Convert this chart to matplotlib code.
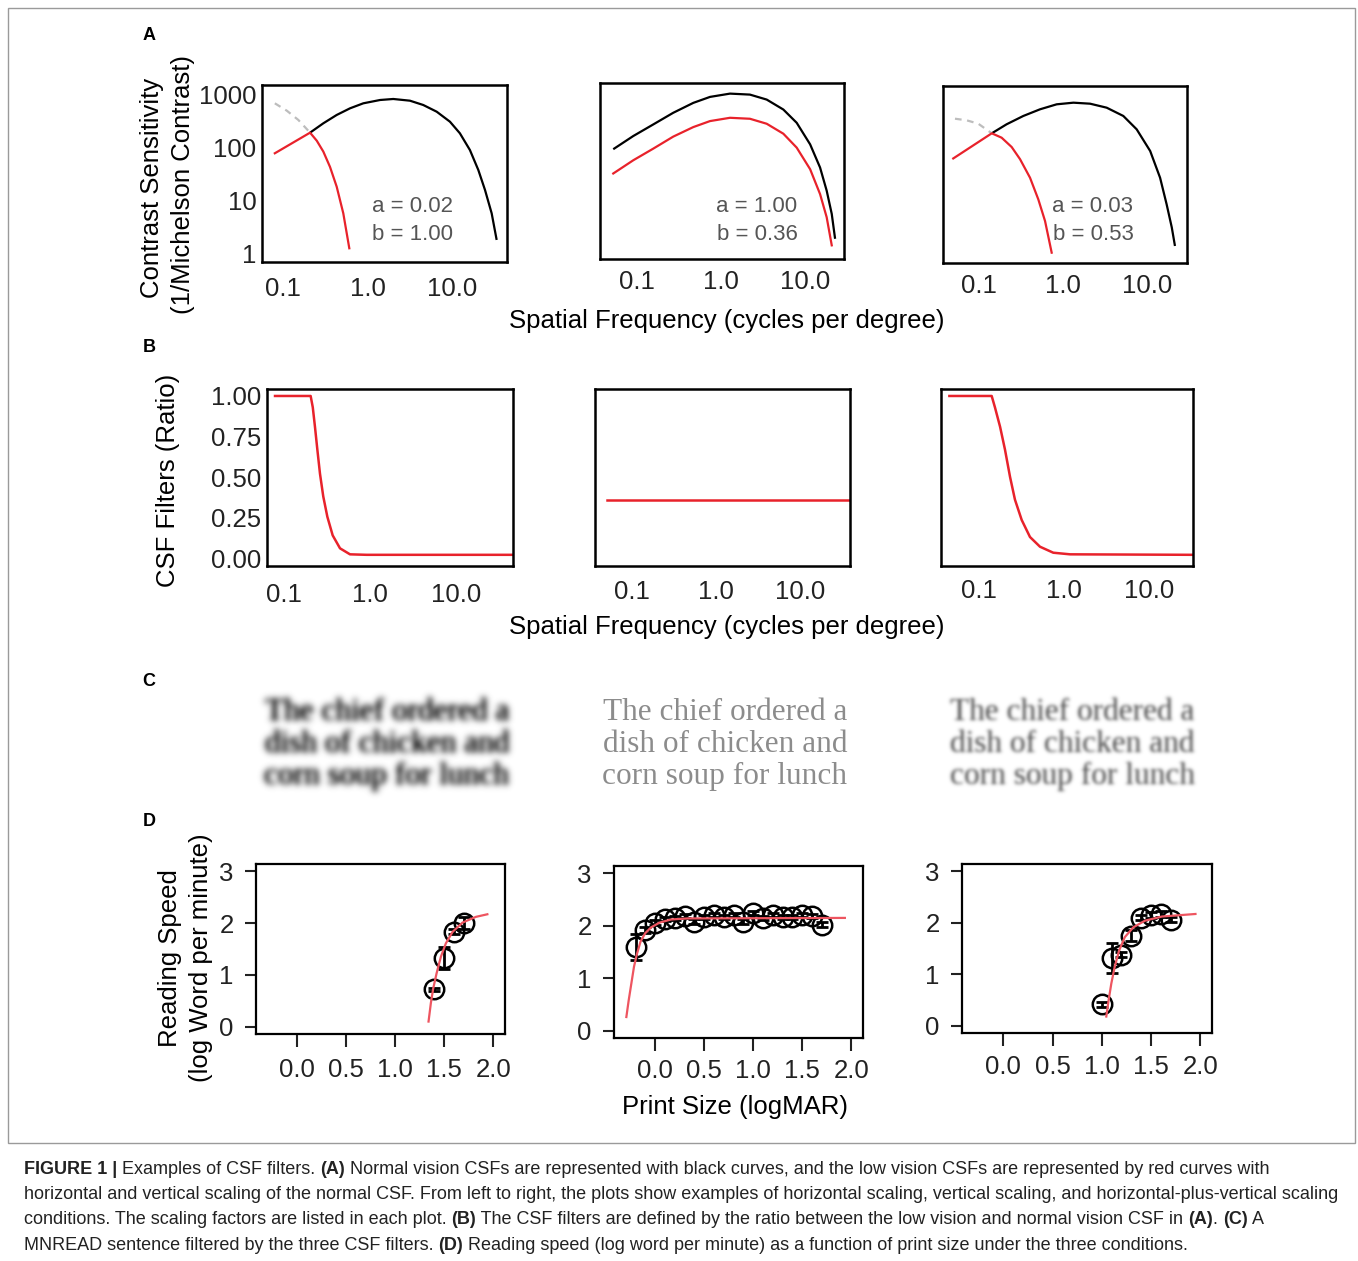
import numpy as np
import matplotlib
matplotlib.use('Agg')
import matplotlib.pyplot as plt
from matplotlib.patches import Rectangle
from matplotlib.ticker import NullLocator
from matplotlib import colors as mcolors

plt.rcParams['font.family'] = ['Liberation Sans', 'DejaVu Sans']

W, H = 1358, 1261

# ---- panel A: contrast sensitivity (cycles/deg, 1/Michelson contrast)
a1_black_f = [0.209, 0.300, 0.432, 0.621, 0.892, 1.41, 2.02, 3.18, 4.57, 6.59, 9.46, 12.4, 16.3, 20.5, 24.6, 29.5, 33.8]
a1_black_s = [192, 289, 416, 556, 692, 800, 836, 776, 643, 480, 310, 187, 90, 37.6, 15.7, 5.66, 1.77]
a1_gray_f = [0.080, 0.111, 0.152, 0.209]
a1_gray_s = [692, 501, 334, 192]
a1_red_f = [0.080, 0.209, 0.251, 0.300, 0.360, 0.432, 0.517, 0.609]
a1_red_s = [78, 192, 135, 84, 43, 18.1, 5.66, 1.23]

a2_black_f = [0.0522, 0.0904, 0.156, 0.270, 0.468, 0.740, 1.28, 2.21, 3.50, 5.52, 7.96, 11.5, 15.1, 18.1, 20.8, 22.8]
a2_black_s = [84, 150, 249, 416, 643, 836, 966, 925, 743, 480, 268, 104, 37.6, 13.6, 4.89, 1.64]
a2_red_f = [0.0522, 0.0904, 0.156, 0.270, 0.468, 0.740, 1.28, 2.21, 3.50, 5.52, 7.96, 11.5, 15.1, 18.1, 20.8]
a2_red_s = [28.9, 51.7, 86, 146, 222, 289, 334, 320, 257, 166, 90, 34.9, 11.7, 4.23, 1.23]

a3_black_f = [0.142, 0.213, 0.337, 0.532, 0.841, 1.33, 2.10, 3.31, 5.22, 7.53, 10.9, 14.3, 17.1, 19.7, 21.5]
a3_black_s = [195, 289, 416, 556, 692, 743, 711, 597, 416, 232, 90, 28, 8.8, 3.2, 1.42]
a3_gray_f = [0.0518, 0.0713, 0.098, 0.142]
a3_gray_s = [369, 344, 297, 195]
a3_red_f = [0.0494, 0.142, 0.186, 0.245, 0.308, 0.405, 0.508, 0.611, 0.733]
a3_red_s = [65, 195, 161, 107, 63, 28, 10.9, 4.23, 1.06]

scale_labels = [('a = 0.02', 'b = 1.00'), ('a = 1.00', 'b = 0.36'), ('a = 0.03', 'b = 0.53')]

# ---- panel B: CSF filter ratio
b1_f = [0.0786, 0.204, 0.216, 0.229, 0.244, 0.262, 0.286, 0.319, 0.368, 0.448, 0.585, 0.915, 45.6]
b1_r = [1.0, 1.0, 0.93, 0.81, 0.67, 0.52, 0.38, 0.255, 0.14, 0.06, 0.023, 0.02, 0.02]
b2_f = [0.05, 39.4]
b2_r = [0.36, 0.36]
b3_f = [0.0448, 0.141, 0.154, 0.177, 0.202, 0.232, 0.265, 0.318, 0.398, 0.522, 0.748, 1.18, 33.2]
b3_r = [1.0, 1.0, 0.93, 0.81, 0.67, 0.50, 0.36, 0.235, 0.13, 0.07, 0.033, 0.023, 0.02]

# ---- panel C: sentence
sentence = ['The chief ordered a', 'dish of chicken and', 'corn soup for lunch']

# ---- panel D: reading speed (logMAR, log wpm)
d1_x = [1.4, 1.5, 1.6, 1.7]
d1_y = [0.72, 1.33, 1.83, 2.0]
d1_err = [0.03, 0.21, 0.05, 0.12]
d1_fit_x = [1.34, 1.364, 1.388, 1.422, 1.466, 1.517, 1.585, 1.687, 1.823, 1.94]
d1_fit_y = [0.10, 0.46, 0.74, 1.03, 1.35, 1.61, 1.83, 2.01, 2.12, 2.17]

d2_x = [-0.2, -0.1, 0.0, 0.1, 0.2, 0.3, 0.4, 0.5, 0.6, 0.7, 0.8, 0.9, 1.0, 1.1, 1.2, 1.3, 1.4, 1.5, 1.6, 1.7]
d2_y = [1.60, 1.92, 2.06, 2.13, 2.15, 2.19, 2.08, 2.17, 2.21, 2.17, 2.21, 2.08, 2.25, 2.15, 2.21, 2.17, 2.17, 2.21, 2.19, 2.02]
d2_err = [0.25, 0.06, 0.05, 0.04, 0.04, 0.04, 0.04, 0.04, 0.04, 0.04, 0.04, 0.04, 0.04, 0.04, 0.04, 0.04, 0.04, 0.04, 0.04, 0.05]
d2_fit_x = [-0.294, -0.27, -0.243, -0.216, -0.185, -0.149, -0.101, -0.041, 0.044, 0.162, 0.331, 1.935]
d2_fit_y = [0.26, 0.58, 0.90, 1.22, 1.47, 1.70, 1.86, 1.97, 2.06, 2.12, 2.14, 2.15]

d3_x = [1.0, 1.1, 1.2, 1.3, 1.4, 1.5, 1.6, 1.7]
d3_y = [0.42, 1.31, 1.38, 1.75, 2.1, 2.15, 2.17, 2.06]
d3_err = [0.05, 0.29, 0.05, 0.1, 0.05, 0.05, 0.05, 0.05]
d3_fit_x = [1.046, 1.07, 1.097, 1.131, 1.176, 1.234, 1.32, 1.439, 1.61, 1.952]
d3_fit_y = [0.18, 0.50, 0.82, 1.14, 1.46, 1.72, 1.91, 2.04, 2.12, 2.17]

RED = '#e8222b'
FIT = '#ee5560'
TICK = '#222222'
FS = 18.5

fig = plt.figure(figsize=(W / 100, H / 100), dpi=100)


def add_axes_px(l, r, t, b):
    return fig.add_axes([l / W, 1 - b / H, (r - l) / W, (b - t) / H])


def frame(ax, lw=1.8):
    for s in ax.spines.values():
        s.set_linewidth(lw)
        s.set_color('black')


# outer frame of the figure area
fig.patches.append(Rectangle((8 / W, 1 - 1143 / H), (1355 - 8) / W, (1143 - 8) / H,
                             transform=fig.transFigure, fill=False,
                             edgecolor='#9a9a9a', linewidth=1))

# panel letters
for letter, y in [('A', 35), ('B', 347), ('C', 681), ('D', 821)]:
    fig.text(149 / W, 1 - y / H, letter, fontsize=13, fontweight='bold', ha='center', va='center')

# ---------------- panel A
a_boxes = [(262, 507, 85, 262), (600, 844, 83, 259), (943, 1187, 86, 263)]
a_xlims = [(0.0564, 44.8), (0.0363, 29.1), (0.0373, 29.9)]
a_pads = [11, 8, 8]
a_text_x = [413, 757, 1093]
curves = [
    (a1_black_f, a1_black_s, a1_red_f, a1_red_s, a1_gray_f, a1_gray_s),
    (a2_black_f, a2_black_s, a2_red_f, a2_red_s, None, None),
    (a3_black_f, a3_black_s, a3_red_f, a3_red_s, a3_gray_f, a3_gray_s),
]
for i in range(3):
    ax = add_axes_px(*a_boxes[i])
    bf, bs, rf, rs, gf, gs = curves[i]
    ax.plot(bf, bs, color='black', lw=1.6, solid_capstyle='butt')
    if gf is not None:
        ax.plot(gf, gs, color='#bdbdbd', lw=1.6, linestyle=(0, (3, 2.5)))
    ax.plot(rf, rs, color=RED, lw=1.6)
    ax.set_xscale('log')
    ax.set_yscale('log')
    ax.set_xlim(*a_xlims[i])
    ax.set_ylim(0.675, 1540)
    ax.set_xticks([0.1, 1, 10])
    ax.set_xticklabels(['0.1', '1.0', '10.0'])
    ax.xaxis.set_minor_locator(NullLocator())
    ax.yaxis.set_minor_locator(NullLocator())
    if i == 0:
        ax.set_yticks([1, 10, 100, 1000])
        ax.set_yticklabels(['1', '10', '100', '1000'])
    else:
        ax.set_yticks([])
    ax.tick_params(axis='x', length=0, labelsize=FS, pad=a_pads[i], colors=TICK)
    ax.tick_params(axis='y', length=0, labelsize=FS, pad=4, colors=TICK)
    frame(ax)
    la, lb = scale_labels[i]
    fig.text(a_text_x[i] / W, 1 - 207 / H, la, fontsize=16, color='#555555', ha='center', va='center')
    fig.text(a_text_x[i] / W, 1 - 234 / H, lb, fontsize=16, color='#555555', ha='center', va='center')

fig.text(152 / W, 1 - 188 / H, 'Contrast Sensitivity', fontsize=FS, rotation=90, ha='center', va='center')
fig.text(183 / W, 1 - 185 / H, '(1/Michelson Contrast)', fontsize=FS, rotation=90, ha='center', va='center')
fig.text(727 / W, 1 - 321 / H, 'Spatial Frequency (cycles per degree)', fontsize=FS, ha='center', va='center')

# ---------------- panel B
b_boxes = [(267, 513, 389, 566), (595, 850, 389, 566), (941, 1193, 389, 566)]
b_xlims = [(0.0634, 46), (0.0363, 39.4), (0.0357, 33)]
b_pads = [12, 10, 9]
b_data = [(b1_f, b1_r), (b2_f, b2_r), (b3_f, b3_r)]
for i in range(3):
    ax = add_axes_px(*b_boxes[i])
    ax.plot(b_data[i][0], b_data[i][1], color=RED, lw=1.8)
    ax.set_xscale('log')
    ax.set_xlim(*b_xlims[i])
    ax.set_ylim(-0.049, 1.043)
    ax.set_xticks([0.1, 1, 10])
    ax.set_xticklabels(['0.1', '1.0', '10.0'])
    ax.xaxis.set_minor_locator(NullLocator())
    if i == 0:
        ax.set_yticks([0, 0.25, 0.5, 0.75, 1.0])
        ax.set_yticklabels(['0.00', '0.25', '0.50', '0.75', '1.00'])
    else:
        ax.set_yticks([])
    ax.tick_params(axis='x', length=0, labelsize=FS, pad=b_pads[i], colors=TICK)
    ax.tick_params(axis='y', length=0, labelsize=FS, pad=4, colors=TICK)
    frame(ax)

fig.text(168 / W, 1 - 480 / H, 'CSF Filters (Ratio)', fontsize=FS, rotation=90, ha='center', va='center')
fig.text(727 / W, 1 - 627 / H, 'Spatial Frequency (cycles per degree)', fontsize=FS, ha='center', va='center')


# ---------------- panel C (filtered sentences)
def blur(sigma, color, gain):
    rgb = mcolors.to_rgb(color)

    def filt(im, dpi):
        pad = int(3 * sigma) + 1
        a = np.pad(im[:, :, 3], pad)
        k = np.exp(-0.5 * (np.arange(-pad, pad + 1) / sigma) ** 2)
        k /= k.sum()
        a = np.apply_along_axis(np.convolve, 0, a, k, 'same')
        a = np.apply_along_axis(np.convolve, 1, a, k, 'same')
        out = np.zeros(a.shape + (4,))
        out[..., :3] = rgb
        out[..., 3] = np.clip(a * gain, 0, 1)
        return out, -pad, -pad
    return filt


c_styles = [(387, '#333333', 3.3, 1.9), (725, '#8c8c8c', 0, 1), (1072, '#6e6e6e', 1.7, 1.3)]
for cx, col, sig, gain in c_styles:
    for j, line in enumerate(sentence):
        t = fig.text(cx / W, 1 - (712 + 32 * j) / H, line, fontsize=22.5, color=col,
                     family=['Liberation Serif', 'DejaVu Serif'],
                     ha='center', va='center')
        if sig > 0:
            t.set_agg_filter(blur(sig, col, gain))

# ---------------- panel D
d_boxes = [(256, 505, 864, 1034), (614, 863, 866, 1038), (962, 1212, 864, 1033)]
d_pads = [8, 6, 7]
d_data = [(d1_x, d1_y, d1_err, d1_fit_x, d1_fit_y),
          (d2_x, d2_y, d2_err, d2_fit_x, d2_fit_y),
          (d3_x, d3_y, d3_err, d3_fit_x, d3_fit_y)]
for i in range(3):
    ax = add_axes_px(*d_boxes[i])
    x, y, e, fx, fy = d_data[i]
    ax.errorbar(x, y, yerr=e, fmt='none', ecolor='black', elinewidth=2, capsize=4, capthick=2, zorder=2)
    ax.plot(x, y, 'o', mfc='none', mec='black', ms=14, mew=1.8, zorder=3)
    ax.plot(fx, fy, color=FIT, lw=1.6, zorder=4)
    ax.set_xlim(-0.42, 2.12)
    ax.set_ylim(-0.14, 3.14)
    ax.set_xticks([0, 0.5, 1.0, 1.5, 2.0])
    ax.set_xticklabels(['0.0', '0.5', '1.0', '1.5', '2.0'])
    ax.set_yticks([0, 1, 2, 3])
    ax.set_yticklabels(['0', '1', '2', '3'])
    ax.tick_params(axis='x', length=9, width=1.5, labelsize=FS, pad=d_pads[i], colors=TICK)
    ax.tick_params(axis='y', length=8, width=1.5, labelsize=FS, pad=8, colors=TICK)
    frame(ax, 1.6)

fig.text(170 / W, 1 - 958 / H, 'Reading Speed', fontsize=FS, rotation=90, ha='center', va='center')
fig.text(201 / W, 1 - 958 / H, '(log Word per minute)', fontsize=FS, rotation=90, ha='center', va='center')
fig.text(735 / W, 1 - 1107 / H, 'Print Size (logMAR)', fontsize=FS, ha='center', va='center')

# ---------------- caption (mixed bold / regular pieces)
caption = [
    [('FIGURE 1 |', True), (' Examples of CSF filters. ', False), ('(A)', True),
     (' Normal vision CSFs are represented with black curves, and the low vision CSFs are represented by red curves with', False)],
    [('horizontal and vertical scaling of the normal CSF. From left to right, the plots show examples of horizontal scaling, vertical scaling, and horizontal-plus-vertical scaling', False)],
    [('conditions. The scaling factors are listed in each plot. ', False), ('(B)', True),
     (' The CSF filters are defined by the ratio between the low vision and normal vision CSF in ', False),
     ('(A)', True), ('. ', False), ('(C)', True), (' A', False)],
    [('MNREAD sentence filtered by the three CSF filters. ', False), ('(D)', True),
     (' Reading speed (log word per minute) as a function of print size under the three conditions.', False)],
]
renderer = fig.canvas.get_renderer()
for j, pieces in enumerate(caption):
    xpx = 24
    ypx = 1173.5 + 25.5 * j
    for txt, bold in pieces:
        t = fig.text(xpx / W, 1 - ypx / H, txt, fontsize=13, color='#222222',
                     fontweight='bold' if bold else 'normal', ha='left', va='baseline')
        xpx += t.get_window_extent(renderer=renderer).width

fig.savefig('out.png', dpi=100)
